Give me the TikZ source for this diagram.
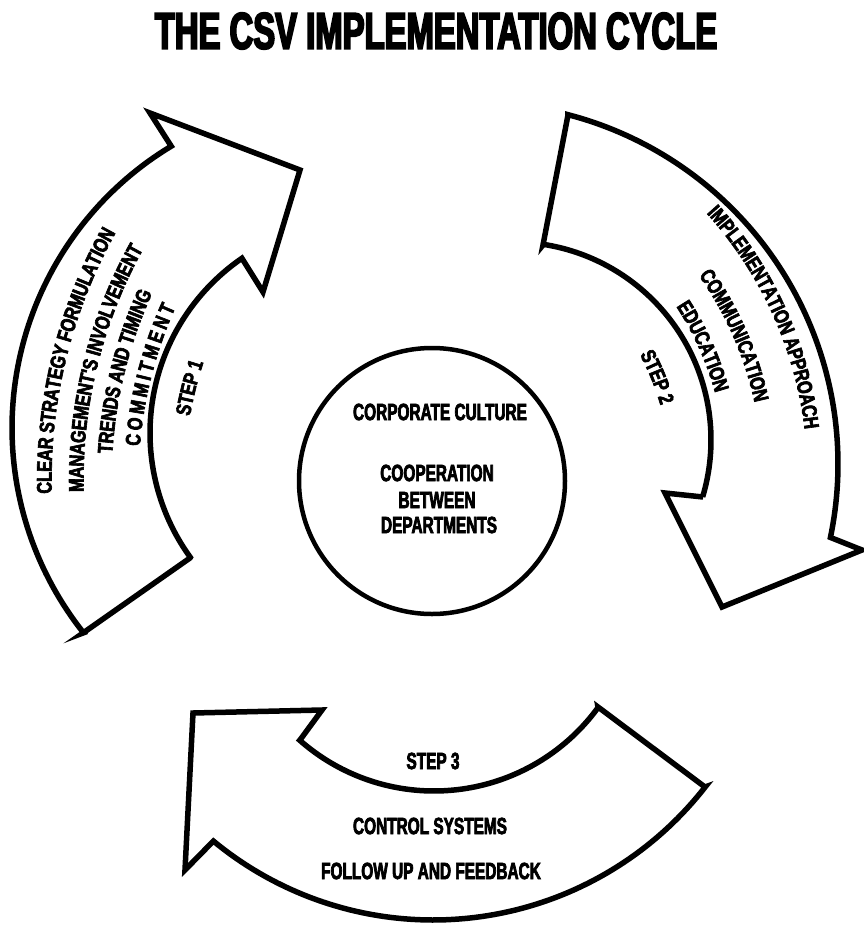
\documentclass[tikz,border=0pt]{standalone}
\usepackage{fontspec}
\usetikzlibrary{decorations.text}
\newfontfamily\ttlfam{Liberation Sans}[FakeStretch=0.635, FakeBold=3.5]
\newfontfamily\bdyfam{Liberation Sans}[FakeStretch=0.655, FakeBold=3]
\newfontfamily\arcfam{Liberation Sans}[FakeStretch=0.78, FakeBold=3]
\newcommand\ttlstyle{\ttlfam\bfseries\fontsize{51.7}{56}\selectfont}
\newcommand\bdystyle{\bdyfam\bfseries\fontsize{23.5}{26}\selectfont}
\newcommand\arcstyle{\arcfam\bfseries\fontsize{21}{24}\selectfont}
% curved text line: cx, cy, R, mid angle, half span, text
\newcommand\arcline[6]{%
  \path[decorate, decoration={text along path, text align=center, raise=-7.5pt, text={|\arcstyle|#6}}]
    plot[domain=0:1, samples=90] ({#1+#3*cos(#4-#5+2*#5*\x)},{#2+#3*sin(#4-#5+2*#5*\x)});
}
\tikzset{
  arrowshape/.style={draw=black, fill=white, line width=5.5pt, line join=miter},
  bodytext/.style={font=\bdystyle, inner sep=0pt, text=black},
  titletext/.style={font=\ttlstyle, inner sep=0pt, text=black},
}
\begin{document}
\begin{tikzpicture}[x=1pt, y=-1pt]
\fill[white] (0,0) rectangle (863,927);
\useasboundingbox (0,0) rectangle (863,927);

% title
\node[titletext] (title) at (436,31) {THE CSV IMPLEMENTATION CYCLE};

% left arrow (step 1)
\draw[arrowshape] (190,558) -- (83,633)
  -- plot[domain=0:1, samples=80] ({341+329*cos(141.5+97.5*\x)},{428+329*sin(141.5+97.5*\x)})
  -- (150,113) -- (300,170) -- (263,292) -- (243,260)
  -- plot[domain=0:1, samples=80] ({362+212*cos(235.5-91.5*\x)},{433+212*sin(235.5-91.5*\x)})
  -- cycle;

% right arrow (step 2)
\draw[arrowshape] (543,245) -- (568,115)
  -- plot[domain=0:1, samples=80] ({477+361*cos(-75.4+87.2*\x)},{464+361*sin(-75.4+87.2*\x)})
  -- (862,550) -- (722,607) -- (665,493) -- (703,497)
  -- plot[domain=0:1, samples=80] ({513+198*cos(16.7-97.9*\x)},{440+198*sin(16.7-97.9*\x)})
  -- cycle;

% bottom arrow (step 3)
\draw[arrowshape] (598,707) -- (705,787)
  -- plot[domain=0:1, samples=80] ({433+345*cos(37.9+91.7*\x)},{575+345*sin(37.9+91.7*\x)})
  -- (185,870) -- (193,713) -- (322,710) -- (300,740)
  -- plot[domain=0:1, samples=80] ({434+203*cos(131.4-95.4*\x)},{588+203*sin(131.4-95.4*\x)})
  -- cycle;

% centre circle
\node[circle, draw=black, line width=4.5pt, fill=white, minimum size=266pt, inner sep=0pt] (core) at (432,481) {};
\node[bodytext] (cc) at (440,412) {CORPORATE CULTURE};
\node[bodytext] (coop) at (437,473) {COOPERATION};
\node[bodytext] (betw) at (437,500) {BETWEEN};
\node[bodytext] (dept) at (439,525) {DEPARTMENTS};

% step 1 texts
\arcline{560}{480}{516}{193.8}{22}{CLEAR STRATEGY FORMULATION}
\arcline{560}{480}{484}{193.8}{22}{MANAGEMENT'S INVOLVEMENT}
\arcline{560}{480}{456}{194}{20}{TRENDS AND TIMING}
\path[decorate, decoration={text along path, text align=fit to path, raise=-7.5pt, text={|\arcstyle|COMMITMENT}}]
  plot[domain=0:1, samples=60] ({560+429*cos(184.6+19.6*\x)},{480+429*sin(184.6+19.6*\x)});
\arcline{560}{480}{383}{194}{15}{STEP 1}

% step 2 texts
\arcline{415}{476}{400}{-24.4}{28}{IMPLEMENTATION APPROACH}
\arcline{415}{476}{355}{-23.7}{28}{COMMUNICATION}
\arcline{415}{476}{319}{-24.2}{25}{EDUCATION}
\arcline{415}{476}{263}{-22.2}{20}{STEP 2}

% step 3 texts
\node[bodytext] (s3) at (433,761) {STEP 3};
\node[bodytext] (ctrl) at (430,826) {CONTROL SYSTEMS};
\node[bodytext] (fup) at (431,871) {FOLLOW UP AND FEEDBACK};
\end{tikzpicture}
\end{document}
